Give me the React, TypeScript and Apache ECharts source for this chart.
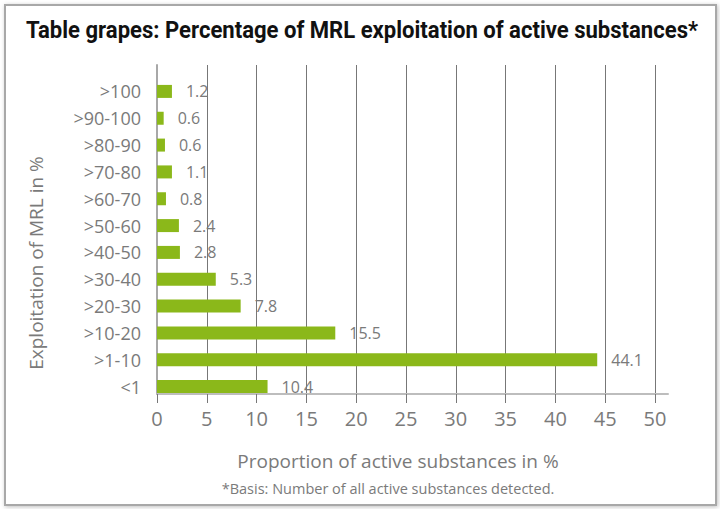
import React, { useEffect, useRef } from "react";
import * as echarts from "echarts";

const categories = [">100", ">90-100", ">80-90", ">70-80", ">60-70", ">50-60", ">40-50", ">30-40", ">20-30", ">10-20", ">1-10", "<1"];
const barValues = [1.5, 0.67, 0.8, 1.5, 0.9, 2.2, 2.3, 5.9, 8.4, 17.9, 44.2, 11.1];
const labelTexts = ["1.2", "0.6", "0.6", "1.1", "0.8", "2.4", "2.8", "5.3", "7.8", "15.5", "44.1", "10.4"];

const titleText = "Table grapes: Percentage of MRL exploitation of active substances*";
const xName = "Proportion of active substances in %";
const yName = "Exploitation of MRL in %";
const footnote = "*Basis: Number of all active substances detected.";

const GRAY = "#7a7a7a";
const FONT = "Open Sans";

export default function App() {
  const ref = useRef<HTMLDivElement>(null);
  useEffect(() => {
    document.body.style.margin = "0";
    const chart = echarts.init(ref.current!, null, { renderer: "svg" });
    chart.setOption({
      animation: false,
      backgroundColor: "#fff",
      grid: [
        { left: 157, right: 65, top: 78, bottom: 109 },
        { left: 157, right: 65, top: 65, bottom: 115 },
        { left: 157, right: 52, top: 65, bottom: 115 },
      ],
      graphic: [
        {
          type: "rect",
          z: -10,
          shape: { x: 5, y: 5, width: 711, height: 500 },
          style: { fill: "#fff", stroke: "#a8a8a8", lineWidth: 2, shadowBlur: 4, shadowColor: "rgba(0,0,0,0.25)", shadowOffsetX: 1, shadowOffsetY: 1 },
        },
        {
          type: "text",
          x: 26,
          y: 42,
          scaleX: 0.96,
          style: { text: titleText, fontFamily: "Roboto", fontWeight: "bold", fontSize: 23, fill: "#111", textVerticalAlign: "bottom" },
        },
        {
          type: "text",
          x: 36,
          y: 263,
          rotation: Math.PI / 2,
          style: { text: yName, fontFamily: FONT, fontSize: 19, fill: GRAY, textAlign: "center", textVerticalAlign: "middle" },
        },
        {
          type: "text",
          x: 388,
          y: 488,
          style: { text: footnote, fontFamily: FONT, fontSize: 14.5, fill: GRAY, textAlign: "center", textVerticalAlign: "middle" },
        },
      ],
      xAxis: [
        {
          gridIndex: 0,
          type: "value",
          min: 0,
          max: 50,
          show: false,
        },
        {
          gridIndex: 1,
          type: "value",
          min: 0,
          max: 50,
          interval: 5,
          position: "bottom",
          name: xName,
          nameLocation: "middle",
          nameGap: 57,
          nameTextStyle: { fontFamily: FONT, fontSize: 19, color: GRAY, padding: [0, 16, 0, 0] },
          axisLine: { show: false },
          axisTick: { show: true, length: 9, lineStyle: { color: "#777", width: 1 } },
          axisLabel: { fontFamily: FONT, fontSize: 20, color: GRAY, margin: 14 },
          splitLine: { show: true, lineStyle: { color: "#777", width: 1 } },
        },
        {
          gridIndex: 2,
          type: "value",
          min: 0,
          max: 50,
          position: "bottom",
          axisLine: { show: true, onZero: false, lineStyle: { color: "#bdbdbd", width: 2 } },
          axisTick: { show: false },
          axisLabel: { show: false },
          splitLine: { show: false },
        },
      ],
      yAxis: [
        {
          gridIndex: 0,
          type: "category",
          inverse: true,
          data: categories,
          axisLine: { show: false },
          axisTick: { show: false },
          axisLabel: { fontFamily: FONT, fontSize: 18, color: GRAY, margin: 16 },
          splitLine: { show: false },
        },
        {
          gridIndex: 1,
          type: "value",
          min: 0,
          max: 1,
          axisLine: { show: true, onZero: false, lineStyle: { color: "#a8a8a8", width: 2 } },
          axisTick: { show: false },
          axisLabel: { show: false },
          splitLine: { show: false },
        },
        {
          gridIndex: 2,
          type: "value",
          min: 0,
          max: 1,
          show: false,
        },
      ],
      series: [
        {
          type: "bar",
          xAxisIndex: 0,
          yAxisIndex: 0,
          data: barValues,
          barWidth: 13,
          itemStyle: { color: "#8bb81a" },
          label: {
            show: true,
            position: "right",
            distance: 14,
            fontFamily: FONT,
            fontSize: 16,
            color: GRAY,
            formatter: (p: any) => labelTexts[p.dataIndex],
          },
        },
      ],
    });
    return () => chart.dispose();
  }, []);
  return <div ref={ref} style={{ position: "absolute", left: 0, top: 0, width: 720, height: 509 }} />;
}
